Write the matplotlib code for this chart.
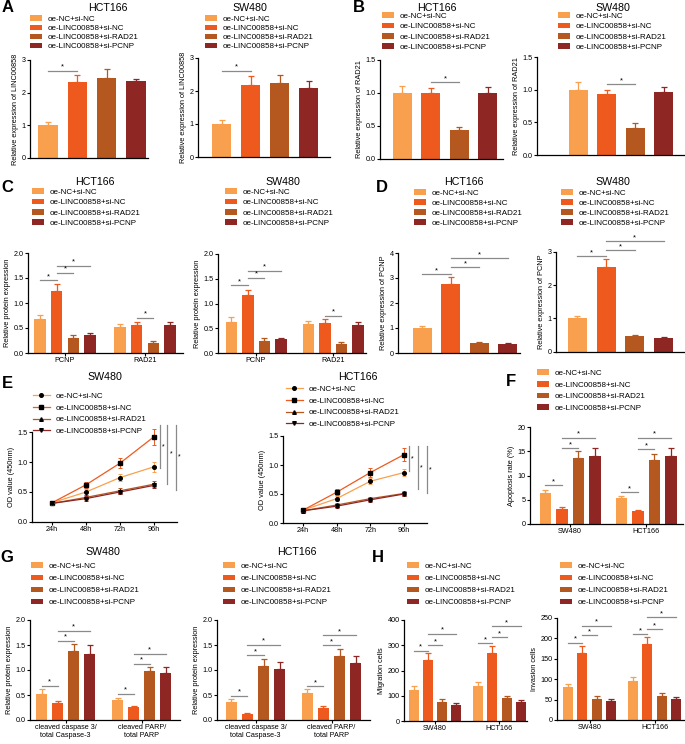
import numpy as np
import matplotlib
matplotlib.use("Agg")
import matplotlib.pyplot as plt
from matplotlib.patches import Patch
from matplotlib.lines import Line2D

# ---- data ----
groups = ["oe-NC+si-NC", "oe-LINC00858+si-NC", "oe-LINC00858+si-RAD21", "oe-LINC00858+si-PCNP"]
COLORS = ["#F9A04E", "#EE5A1E", "#B4581F", "#8E2624"]
SIG = "#8a8a8a"

# A: LINC00858 expression
a_hct_mean = [1.0, 2.32, 2.45, 2.37]
a_hct_err = [0.09, 0.23, 0.28, 0.04]
a_sw_mean = [1.0, 2.17, 2.25, 2.09]
a_sw_err = [0.13, 0.28, 0.22, 0.21]

# B: RAD21 expression
b_hct_mean = [1.0, 0.99, 0.43, 1.0]
b_hct_err = [0.10, 0.09, 0.05, 0.09]
b_sw_mean = [1.0, 0.93, 0.42, 0.97]
b_sw_err = [0.11, 0.07, 0.07, 0.07]

# C: protein expression (PCNP, RAD21)
c_labels = ["PCNP", "RAD21"]
c_hct_mean = [[0.69, 1.25, 0.31, 0.36], [0.53, 0.57, 0.20, 0.57]]
c_hct_err = [[0.08, 0.13, 0.05, 0.05], [0.06, 0.06, 0.04, 0.06]]
c_sw_mean = [[0.62, 1.17, 0.25, 0.28], [0.59, 0.60, 0.19, 0.57]]
c_sw_err = [[0.10, 0.11, 0.05, 0.02], [0.06, 0.09, 0.04, 0.05]]

# D: PCNP expression
d_hct_mean = [1.0, 2.76, 0.40, 0.36]
d_hct_err = [0.10, 0.29, 0.05, 0.03]
d_sw_mean = [1.0, 2.55, 0.46, 0.41]
d_sw_err = [0.08, 0.25, 0.04, 0.04]

# E: CCK-8
time_labels = ["24h", "48h", "72h", "96h"]
e_sw = [[0.32, 0.50, 0.74, 0.92],
        [0.32, 0.62, 0.98, 1.42],
        [0.31, 0.41, 0.52, 0.63],
        [0.31, 0.39, 0.50, 0.61]]
e_sw_err = [[0.03, 0.05, 0.06, 0.08],
            [0.03, 0.05, 0.08, 0.13],
            [0.03, 0.04, 0.05, 0.05],
            [0.03, 0.04, 0.04, 0.04]]
e_hct = [[0.22, 0.42, 0.72, 0.87],
         [0.22, 0.53, 0.87, 1.18],
         [0.21, 0.31, 0.42, 0.51],
         [0.21, 0.29, 0.40, 0.50]]
e_hct_err = [[0.03, 0.04, 0.05, 0.06],
             [0.03, 0.05, 0.07, 0.11],
             [0.02, 0.03, 0.03, 0.04],
             [0.02, 0.03, 0.03, 0.04]]

# F: apoptosis
cell_labels = ["SW480", "HCT166"]
f_mean = [[6.3, 3.0, 13.7, 14.0], [5.4, 2.7, 13.2, 14.0]]
f_err = [[0.7, 0.6, 1.3, 1.6], [0.4, 0.2, 1.3, 1.6]]

# G: cleaved caspase 3 / PARP
g_labels = ["cleaved caspase 3/\ntotal Caspase-3", "cleaved PARP/\ntotal PARP"]
g_sw_mean = [[0.53, 0.34, 1.39, 1.33], [0.40, 0.26, 0.98, 0.94]]
g_sw_err = [[0.09, 0.05, 0.13, 0.18], [0.05, 0.02, 0.08, 0.12]]
g_hct_mean = [[0.37, 0.12, 1.08, 1.02], [0.54, 0.25, 1.29, 1.14]]
g_hct_err = [[0.06, 0.03, 0.15, 0.15], [0.08, 0.03, 0.13, 0.14]]

# H: migration / invasion
h_mig_mean = [[123, 242, 76, 62], [139, 268, 90, 74]]
h_mig_err = [[15, 28, 10, 8], [15, 29, 10, 8]]
h_inv_mean = [[80, 163, 52, 47], [95, 186, 59, 51]]
h_inv_err = [[8, 18, 6, 4], [10, 18, 6, 5]]

# ---- figure helpers ----
W, H = 685, 744
plt.rcParams["font.family"] = ["Liberation Sans", "DejaVu Sans"]
fig = plt.figure(figsize=(W / 100, H / 100), dpi=100)

TICK_FS = 5.2
LEG_FS = 5.8


def px_axes(left, top, right, bottom):
    return fig.add_axes([left / W, 1 - bottom / H, (right - left) / W, (bottom - top) / H])


def style(ax):
    for s in ["top", "right"]:
        ax.spines[s].set_visible(False)
    for s in ["left", "bottom"]:
        ax.spines[s].set_linewidth(0.9)
    ax.tick_params(labelsize=TICK_FS, length=2.2, width=0.8, pad=1)


def title(x, y, s):
    fig.text(x / W, 1 - y / H, s, ha="center", va="center", fontsize=7.7)


def letter(x, y, s):
    fig.text(x / W, 1 - y / H, s, ha="center", va="center", fontsize=12, fontweight="bold")


def legend(ax, x, y, pitch, lines=False):
    if lines:
        handles = [Line2D([], [], color=c, lw=0.9, marker=m, mfc="k", mec="k", ms=2.6)
                   for c, m in zip(COLORS, ["o", "s", "^", "v"])]
        hl = 2.1
    else:
        handles = [Patch(facecolor=c, edgecolor="none") for c in COLORS]
        hl = 1.5
    fpx = LEG_FS * 100 / 72
    ax.legend(handles, groups, loc="upper left", bbox_to_anchor=(x / W, 1 - (y - 0.56 * fpx) / H),
              bbox_transform=fig.transFigure, frameon=False, fontsize=LEG_FS,
              handlelength=hl, handleheight=0.7, handletextpad=0.7,
              labelspacing=(pitch - 1.12 * fpx) / fpx, borderaxespad=0, borderpad=0)


def bar_chart(rect, ylim, yticks, centers, step, width, means, errs, ylabel,
              xlabels=None, sigs=(), ytickfmt=None):
    ax = px_axes(*rect)
    style(ax)
    for c, m, e in zip(centers, means, errs):
        xs = c + (np.arange(4) - 1.5) * step
        ax.bar(xs, m, width=width, color=COLORS, zorder=2)
        for x, v, er, col in zip(xs, m, e, COLORS):
            ax.errorbar(x, v, yerr=[[0], [er]], color=col, capsize=2.0,
                        elinewidth=0.9, capthick=0.9, zorder=1)
    for g, i, j, y in sigs:
        x0 = centers[g] + (i - 1.5) * step
        x1 = centers[g] + (j - 1.5) * step
        ax.plot([x0, x1], [y, y], color=SIG, lw=0.9, clip_on=False)
        ax.text((x0 + x1) / 2, y, "*", ha="center", va="bottom", fontsize=5.5, clip_on=False)
    ax.set_xlim(rect[0], rect[2])
    ax.set_ylim(*ylim)
    ax.set_yticks(yticks)
    if ytickfmt:
        ax.set_yticklabels([ytickfmt.format(t) for t in yticks])
    if xlabels:
        ax.set_xticks(centers, xlabels)
    else:
        ax.set_xticks([])
    ax.set_ylabel(ylabel, fontsize=5.3, labelpad=2)
    return ax


def line_chart(rect, vals, errs, sig_x, sig_y):
    ax = px_axes(*rect)
    style(ax)
    x = np.arange(4)
    for k, m in enumerate(["o", "s", "^", "v"]):
        ax.errorbar(x, vals[k], yerr=errs[k], color=COLORS[k], lw=0.9, elinewidth=0.7,
                    capsize=1.6, capthick=0.7, marker=m, mfc="k", mec="k", ms=2.6,
                    zorder=3 + k, clip_on=False)
    for xs, (y0, y1) in zip(sig_x, sig_y):
        ax.plot([xs, xs], [y0, y1], color=SIG, lw=0.9, clip_on=False)
        ax.text(xs + 0.06, (y0 + y1) / 2, "*", ha="left", va="center", fontsize=5, clip_on=False)
    ax.set_xlim(-0.59, 3.68)
    ax.set_ylim(0, 1.5)
    ax.set_yticks([0, 0.5, 1.0, 1.5])
    ax.set_xticks(x, time_labels)
    ax.set_ylabel("OD value (450nm)", fontsize=5.3, labelpad=2)
    return ax


# ---- A ----
letter(8, 8, "A")
title(108, 8, "HCT166")
ax = bar_chart((30, 60, 148, 158), (0, 3), [0, 1, 2, 3], [92], 29.2, 19.5,
               [a_hct_mean], [a_hct_err], "Relative expression of LINC00858",
               sigs=[(0, 0, 1, 2.67)])
legend(ax, 30, 20, 10.5)
title(250, 8, "SW480")
ax = bar_chart((198, 58, 330, 157), (0, 3), [0, 1, 2, 3], [265], 29.0, 19.5,
               [a_sw_mean], [a_sw_err], "Relative expression of LINC00858",
               sigs=[(0, 0, 1, 2.62)])
legend(ax, 205, 20, 10.5)

# ---- B ----
letter(359, 8, "B")
title(437, 8, "HCT166")
ax = bar_chart((380, 60, 503, 158.5), (0, 1.5), [0, 0.5, 1.0, 1.5], [445], 28.5, 19,
               [b_hct_mean], [b_hct_err], "Relative expression of RAD21",
               sigs=[(0, 1, 2, 1.16)], ytickfmt="{:.1f}")
legend(ax, 382, 17, 11.6)
title(613, 8, "SW480")
ax = bar_chart((537, 57, 685, 155), (0, 1.5), [0, 0.5, 1.0, 1.5], [621], 28.6, 19,
               [b_sw_mean], [b_sw_err], "Relative expression of RAD21",
               sigs=[(0, 1, 2, 1.08)], ytickfmt="{:.1f}")
legend(ax, 558, 17, 11.6)

# ---- C ----
letter(7, 187, "C")
title(95, 182, "HCT166")
ax = bar_chart((28, 253, 183, 353), (0, 2), [0, 0.5, 1.0, 1.5, 2.0], [65, 145], 16.7, 11.5,
               c_hct_mean, c_hct_err, "Relative protein expression", xlabels=c_labels,
               sigs=[(0, 0, 1, 1.46), (0, 1, 2, 1.61), (0, 1, 3, 1.75), (1, 1, 2, 0.71)],
               ytickfmt="{:.1f}")
legend(ax, 32, 193, 11.6)
title(283, 182, "SW480")
ax = bar_chart((218, 254, 366, 353), (0, 2), [0, 0.5, 1.0, 1.5, 2.0], [256, 333], 16.5, 11.5,
               c_sw_mean, c_sw_err, "Relative protein expression", xlabels=c_labels,
               sigs=[(0, 0, 1, 1.37), (0, 1, 2, 1.52), (0, 1, 3, 1.66), (1, 1, 2, 0.75)],
               ytickfmt="{:.1f}")
legend(ax, 225, 193, 11.6)

# ---- D ----
letter(382, 187, "D")
title(464, 182, "HCT166")
ax = bar_chart((398, 253, 520, 353), (0, 4), [0, 1, 2, 3, 4], [465], 28.6, 19,
               [d_hct_mean], [d_hct_err], "Relative expression of PCNP",
               sigs=[(0, 0, 1, 3.16), (0, 1, 2, 3.43), (0, 1, 3, 3.79)])
legend(ax, 414, 194, 11.3)
title(613, 182, "SW480")
ax = bar_chart((556, 252, 685, 351.7), (0, 3), [0, 1, 2, 3], [620.5], 28.7, 19,
               [d_sw_mean], [d_sw_err], "Relative expression of PCNP",
               sigs=[(0, 0, 1, 2.88), (0, 1, 2, 3.05), (0, 1, 3, 3.32)])
legend(ax, 561, 194, 11.3)

# ---- E ----
letter(7, 384, "E")
title(105, 377, "SW480")
ax = line_chart((32, 432, 177, 522), e_sw, e_sw_err,
                [3.18, 3.40, 3.66], [(1.62, 0.90), (1.62, 0.64), (1.62, 0.54)])
legend(ax, 33, 397, 13, lines=True)
title(358, 377, "HCT166")
ax = line_chart((283, 436, 427, 523), e_hct, e_hct_err,
                [3.15, 3.41, 3.68], [(1.32, 0.90), (1.32, 0.58), (1.32, 0.52)])
legend(ax, 286, 390, 13, lines=True)

# ---- F ----
letter(511, 382, "F")
ax = bar_chart((530, 427, 683, 524), (0, 20), [0, 5, 10, 15, 20], [570, 646], 16.5, 11.5,
               f_mean, f_err, "Apoptosis rate (%)", xlabels=cell_labels,
               sigs=[(0, 0, 1, 8.0), (0, 1, 2, 15.6), (0, 1, 3, 17.8),
                     (1, 0, 1, 6.6), (1, 1, 2, 15.4), (1, 1, 3, 17.8)])
legend(ax, 537, 374, 13)

# ---- G ----
letter(7, 557, "G")
title(103, 552, "SW480")
ax = bar_chart((30, 620, 180, 720), (0, 2), [0, 0.5, 1.0, 1.5, 2.0], [65.6, 141.8], 16, 11,
               g_sw_mean, g_sw_err, "Relative protein expression", xlabels=g_labels,
               sigs=[(0, 0, 1, 0.69), (0, 1, 2, 1.59), (0, 1, 3, 1.79),
                     (1, 0, 1, 0.53), (1, 1, 2, 1.13), (1, 1, 3, 1.33)],
               ytickfmt="{:.1f}")
legend(ax, 31, 567, 13.4)
title(297, 552, "HCT166")
ax = bar_chart((217, 620, 370, 720), (0, 2), [0, 0.5, 1.0, 1.5, 2.0], [255.5, 331.5], 16.3, 11,
               g_hct_mean, g_hct_err, "Relative protein expression", xlabels=g_labels,
               sigs=[(0, 0, 1, 0.49), (0, 1, 2, 1.30), (0, 1, 3, 1.51),
                     (1, 0, 1, 0.68), (1, 1, 2, 1.50), (1, 1, 3, 1.70)],
               ytickfmt="{:.1f}")
legend(ax, 223, 567, 13.4)

# ---- H ----
letter(378, 557, "H")
ax = bar_chart((404, 620, 527, 721), (0, 400), [0, 100, 200, 300, 400], [435, 499.5], 14.3, 10,
               h_mig_mean, h_mig_err, "Migration cells", xlabels=cell_labels,
               sigs=[(0, 0, 1, 278), (0, 1, 2, 301), (0, 1, 3, 345),
                     (1, 0, 1, 308), (1, 1, 2, 333), (1, 1, 3, 376)])
legend(ax, 407, 567, 13.4)
ax = bar_chart((557, 618, 685, 720), (0, 250), [0, 50, 100, 150, 200, 250], [589.5, 654.5], 14.3, 10,
               h_inv_mean, h_inv_err, "Invasion cells", xlabels=cell_labels,
               sigs=[(0, 0, 1, 189), (0, 1, 2, 208), (0, 1, 3, 231),
                     (1, 0, 1, 211), (1, 1, 2, 223), (1, 1, 3, 252)])
legend(ax, 560, 567, 13.4)

fig.savefig("out.png", dpi=100)
